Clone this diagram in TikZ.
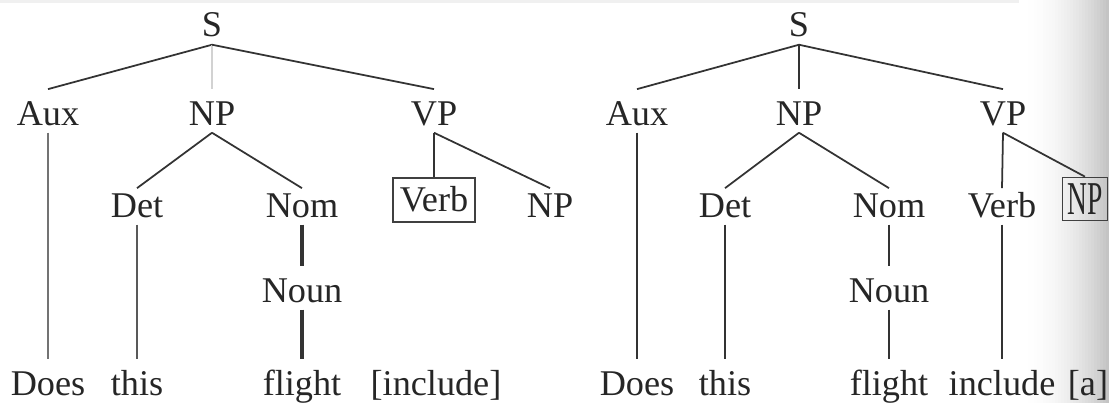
\documentclass[tikz,border=0pt]{standalone}
\usepackage{fontspec}
\setmainfont{Liberation Serif}
\usepackage{graphicx}

\tikzset{
  cat/.style={inner sep=0pt, anchor=base, text height=10pt, text depth=2pt,
    font=\fontsize{10.3}{12}\selectfont, text=black!85},
  low/.style={cat, text height=8pt},
  boxed/.style={draw=black!75, line width=0.5pt, inner xsep=2pt, inner ysep=3pt,
    text height=6.6pt, text depth=0pt, font=\fontsize{10.3}{12}\selectfont, text=black!85},
  br/.style={line width=0.5pt, black!80},
}

\begin{document}
\begin{tikzpicture}[x=0.01cm, y=-0.01cm]
\useasboundingbox (0,0) rectangle (1109,403);
% page edge
\fill [gray!12] (0,0) rectangle (1109,3);
\foreach \i in {0,...,29} {
  \pgfmathsetmacro\shadeval{0.055*\i*\i}
  \fill [gray!\shadeval] (1019+3*\i,0) rectangle (1022.6+3*\i,403);
}

% left tree
\node [cat] (s1) at (212,37) {S};
\node [cat] (aux1) at (48,125) {Aux};
\node [cat] (np1) at (212,125) {NP};
\node [cat] (vp1) at (434,125) {VP};
\node [low] (det1) at (137,217) {Det};
\node [low] (nom1) at (302,217) {Nom};
\node [boxed] (verb1) at (434,200) {Verb};
\node [low] (obj1) at (550,217) {NP};
\node [cat] (noun1) at (302,302) {Noun};
\node [cat] (does1) at (48,395) {Does};
\node [cat] (this1) at (137,395) {this};
\node [cat] (flight1) at (302,395) {flight};
\node [cat] (incl1) at (436,395) {[include]};

\draw [br] (s1.south) -- (aux1.north);
\draw [br, gray!35] (s1.south) -- (np1.north); % faint
\draw [br] (s1.south) -- (vp1.north);
\draw [br, black!55] (aux1.south) -- (does1.north);
\draw [br] (np1.south) -- (det1.north);
\draw [br] (np1.south) -- (nom1.north);
\draw [br] (vp1.south) -- (verb1.north);
\draw [br] (vp1.south) -- (obj1.north);
\draw [br, black!65] (det1.south) -- (this1.north);
\draw [br, line width=1.1pt] (nom1.south) -- (noun1.north);
\draw [br, line width=1.1pt] (noun1.south) -- (flight1.north);

% right tree
\node [cat] (s2) at (799,37) {S};
\node [cat] (aux2) at (637,125) {Aux};
\node [cat] (np2) at (799,125) {NP};
\node [cat] (vp2) at (1003,125) {VP};
\node [low] (det2) at (725,217) {Det};
\node [low] (nom2) at (889,217) {Nom};
\node [low] (verb2) at (1002,217) {Verb};
\node [boxed, inner xsep=1.4pt, inner ysep=1.8pt, text height=8.6pt] (obj2) at (1085,199) {\scalebox{0.76}[1.3]{NP}};
\node [cat] (noun2) at (889,302) {Noun};
\node [cat] (does2) at (637,395) {Does};
\node [cat] (this2) at (725,395) {this};
\node [cat] (flight2) at (889,395) {flight};
\node [cat] (incl2) at (1002,395) {include};
\node [cat] (det3) at (1088,395) {[a]};

\draw [br] (s2.south) -- (aux2.north);
\draw [br] (s2.south) -- (np2.north);
\draw [br] (s2.south) -- (vp2.north);
\draw [br, line width=0.4pt] (aux2.south) -- (does2.north);
\draw [br] (np2.south) -- (det2.north);
\draw [br] (np2.south) -- (nom2.north);
\draw [br] (vp2.south) -- (verb2.north);
\draw [br] (vp2.south) -- (obj2.north);
\draw [br, line width=0.4pt] (det2.south) -- (this2.north);
\draw [br, line width=0.4pt] (nom2.south) -- (noun2.north);
\draw [br, line width=0.4pt] (noun2.south) -- (flight2.north);
\draw [br] (verb2.south) -- (incl2.north);
\end{tikzpicture}
\end{document}
